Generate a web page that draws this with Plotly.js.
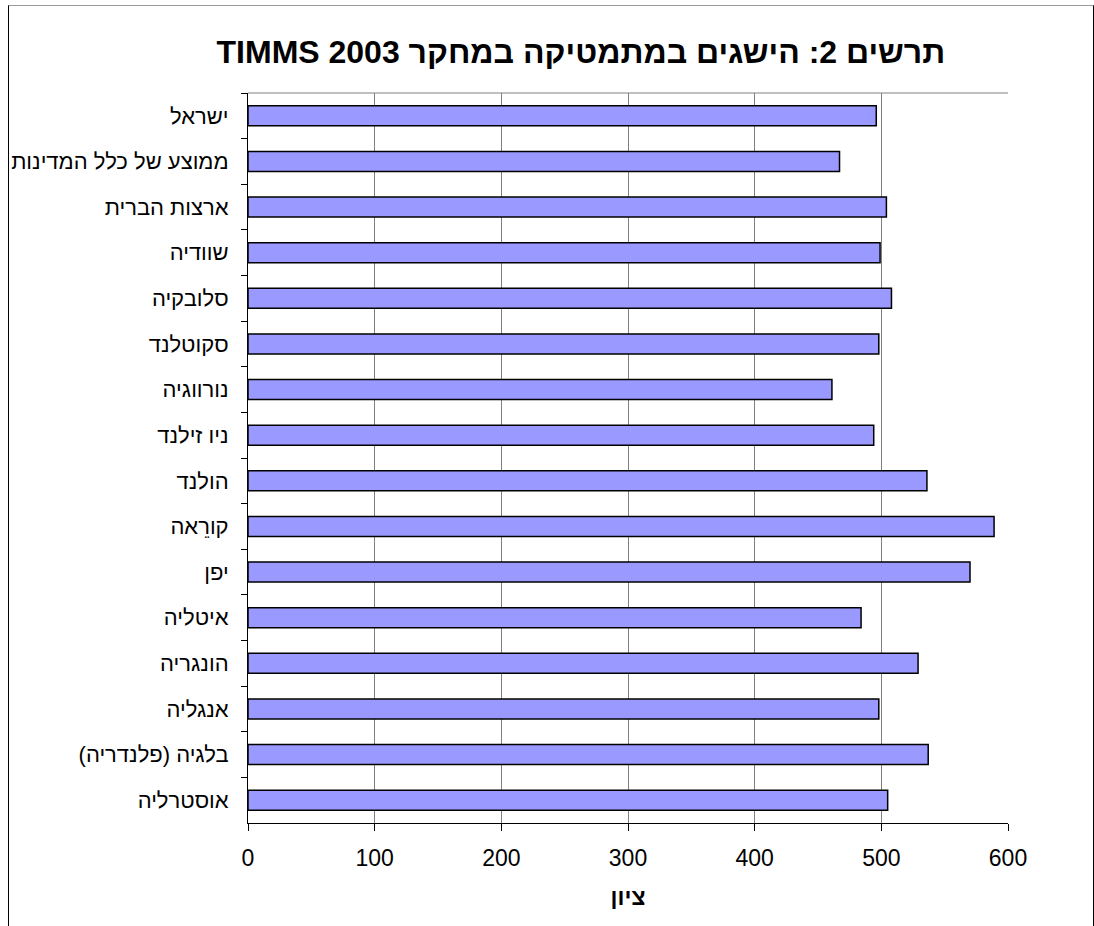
<!DOCTYPE html>
<html>
<head>
<meta charset="utf-8">
<script src="https://cdn.plot.ly/plotly-3.0.1.min.js"></script>
<style>
  html, body { margin: 0; padding: 0; background: #fff; }
  #wrap { position: relative; width: 1094px; height: 926px; overflow: hidden; }
  #chart { position: absolute; left: 0; top: 0; width: 1094px; height: 926px; }
  #frame { position: absolute; left: 8px; top: 5px; width: 1086px; height: 1000px;
           border-left: 1px solid #000; border-right: 1px solid #000; border-top: 1px solid #9a9a9a;
           box-sizing: border-box; pointer-events: none; }
</style>
</head>
<body>
<div id="wrap">
  <div id="chart"></div>
  <div id="frame"></div>
</div>
<script>
// Data (top to bottom as shown)
var countries = [
  "ישראל",
  "ממוצע של כלל המדינות",
  "ארצות הברית",
  "שוודיה",
  "סלובקיה",
  "סקוטלנד",
  "נורווגיה",
  "ניו זילנד",
  "הולנד",
  "קורֵאה",
  "יפן",
  "איטליה",
  "הונגריה",
  "אנגליה",
  "בלגיה (פלנדריה)",
  "אוסטרליה"
];
var scores = [496, 467, 504, 499, 508, 498, 461, 494, 536, 589, 570, 484, 529, 498, 537, 505];
var xTicks = [0, 100, 200, 300, 400, 500, 600];
var chartTitle = "תרשים 2: הישגים במתמטיקה במחקר TIMMS 2003";
var xTitle = "ציון";

var RLM = "\u200F";
var labels = countries.map(function (c) { return RLM + c + RLM; });

var trace = {
  type: "bar",
  orientation: "h",
  x: scores,
  y: labels,
  marker: { color: "#9999FF", line: { color: "#000000", width: 1.5 } },
  hoverinfo: "x+y"
};

var layout = {
  width: 1094,
  height: 926,
  margin: { l: 248, r: 86, t: 93, b: 103 },
  paper_bgcolor: "rgba(0,0,0,0)",
  plot_bgcolor: "#ffffff",
  font: { family: "Liberation Sans, Arial, sans-serif", color: "#000" },
  title: {
    text: "\u202B" + chartTitle + "\u202C",
    font: { family: "Liberation Sans, Arial, sans-serif", size: 32, color: "#000", weight: "bold" },
    xref: "container", x: 0.531, xanchor: "center",
    yref: "container", y: 0.944, yanchor: "middle"
  },
  bargap: 0.56,
  showlegend: false,
  xaxis: {
    range: [0, 600],
    tickvals: xTicks,
    ticktext: xTicks.map(String),
    showgrid: true,
    gridcolor: "#808080",
    gridwidth: 1,
    zeroline: false,
    showline: true,
    linecolor: "#000",
    linewidth: 1,
    ticks: "outside",
    ticklen: 7,
    tickcolor: "#000",
    tickfont: { size: 23, color: "#000" },
    ticklabelstandoff: 7,
    title: { text: xTitle, font: { size: 23, weight: "bold", color: "#000" }, standoff: 19 },
    fixedrange: true
  },
  yaxis: {
    type: "category",
    autorange: "reversed",
    showgrid: false,
    zeroline: false,
    showline: true,
    linecolor: "#000",
    linewidth: 1,
    ticks: "outside",
    tickson: "boundaries",
    ticklen: 6,
    tickcolor: "#000",
    tickfont: { size: 22, color: "#000" },
    ticklabelstandoff: 14,
    fixedrange: true
  },
  shapes: [
    { type: "line", xref: "paper", yref: "paper", x0: 0, x1: 1, y0: 1, y1: 1,
      line: { color: "#808080", width: 1 }, layer: "below" }
  ]
};

Plotly.newPlot("chart", [trace], layout, { displayModeBar: false, staticPlot: true });
</script>
</body>
</html>
